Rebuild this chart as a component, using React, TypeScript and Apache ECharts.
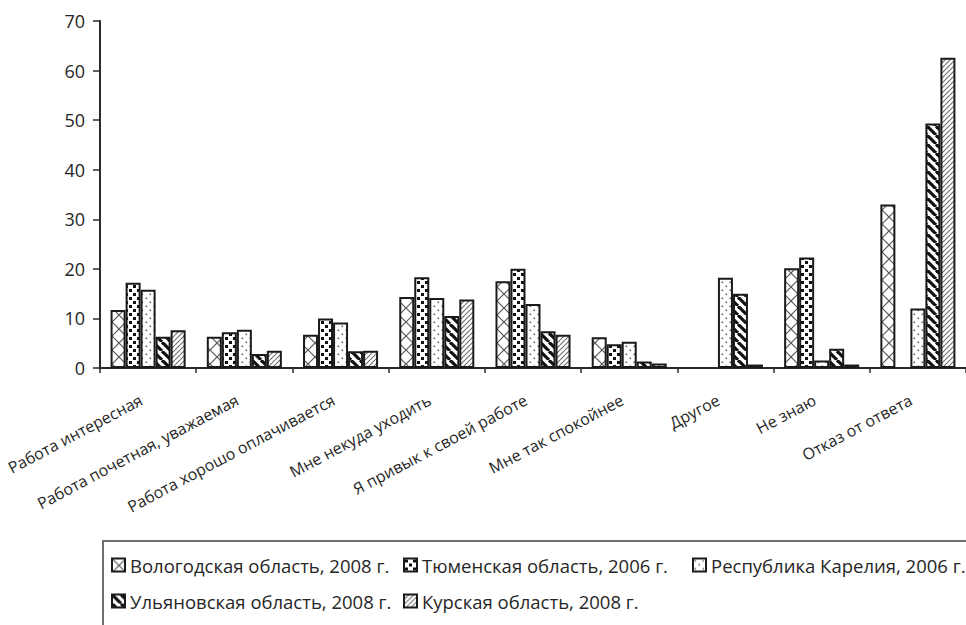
import React, { useEffect, useRef } from 'react';
import * as echarts from 'echarts';

const categories = [
  'Работа интересная',
  'Работа почетная, уважаемая',
  'Работа хорошо оплачивается',
  'Мне некуда уходить',
  'Я привык к своей работе',
  'Мне так спокойнее',
  'Другое',
  'Не знаю',
  'Отказ от ответа',
];

const seriesNames = [
  'Вологодская область, 2008 г.',
  'Тюменская область, 2006 г.',
  'Республика Карелия, 2006 г.',
  'Ульяновская область, 2008 г.',
  'Курская область, 2008 г.',
];

const vologda = [11.7, 6.3, 6.7, 14.3, 17.5, 6.2, null, 20.1, 33.0];
const tyumen = [17.2, 7.2, 10.0, 18.3, 20.0, 4.8, null, 22.3, null];
const karelia = [15.8, 7.7, 9.2, 14.1, 12.9, 5.3, 18.2, 1.5, 12.0];
const ulyanovsk = [6.3, 2.8, 3.4, 10.5, 7.4, 1.3, 15.0, 3.9, 49.3];
const kursk = [7.6, 3.5, 3.5, 13.8, 6.7, 0.9, 0.7, 0.7, 62.6];

const yTicks = { min: 0, max: 70, interval: 10 };

const FONT = 'Open Sans';
const TEXT = '#262626';

function makePattern(size: number, draw: (ctx: CanvasRenderingContext2D, s: number) => void) {
  const c = document.createElement('canvas');
  c.width = size;
  c.height = size;
  const ctx = c.getContext('2d') as CanvasRenderingContext2D;
  ctx.fillStyle = '#ffffff';
  ctx.fillRect(0, 0, size, size);
  draw(ctx, size);
  return { image: c, repeat: 'repeat', imageWidth: size, imageHeight: size } as any;
}

function diag(ctx: CanvasRenderingContext2D, s: number, dir: 'down' | 'up') {
  for (const x0 of [-s, 0, s]) {
    ctx.beginPath();
    if (dir === 'down') {
      ctx.moveTo(x0, 0);
      ctx.lineTo(x0 + s, s);
    } else {
      ctx.moveTo(x0, s);
      ctx.lineTo(x0 + s, 0);
    }
    ctx.stroke();
  }
}

export default function App() {
  const ref = useRef<HTMLDivElement>(null);
  useEffect(() => {
    if (!ref.current) return;
    const chart = echarts.init(ref.current, undefined, { renderer: 'svg' });

    const pCross = makePattern(14, (ctx, s) => {
      ctx.strokeStyle = '#5a5a5a';
      ctx.lineWidth = 1.2;
      diag(ctx, s, 'down');
      diag(ctx, s, 'up');
    });
    const pSquares = makePattern(8, (ctx) => {
      ctx.fillStyle = '#111';
      ctx.fillRect(1, 1, 3, 3);
      ctx.fillRect(5, 5, 3, 3);
    });
    const pDots = makePattern(8, (ctx) => {
      ctx.fillStyle = '#666';
      ctx.fillRect(1.5, 1.5, 1.6, 1.6);
      ctx.fillRect(5.5, 5.5, 1.6, 1.6);
    });
    const pWide = makePattern(9, (ctx, s) => {
      ctx.strokeStyle = '#111';
      ctx.lineWidth = 3.2;
      diag(ctx, s, 'down');
    });
    const pLight = makePattern(5, (ctx, s) => {
      ctx.strokeStyle = '#6a6a6a';
      ctx.lineWidth = 1.1;
      diag(ctx, s, 'up');
    });

    const patterns = [pCross, pSquares, pDots, pWide, pLight];
    const datas = [vologda, tyumen, karelia, ulyanovsk, kursk];

    const legendPos = [
      { left: 111, top: 554 },
      { left: 403, top: 554 },
      { left: 692, top: 554 },
      { left: 111, top: 590 },
      { left: 403, top: 590 },
    ];

    chart.setOption({
      animation: false,
      backgroundColor: '#ffffff',
      textStyle: { fontFamily: FONT, color: TEXT },
      grid: { left: 100, right: 0, top: 21, bottom: 257, containLabel: false },
      xAxis: {
        type: 'category',
        data: categories,
        axisLine: { lineStyle: { color: '#2a2a2a', width: 2 } },
        axisTick: { show: true, length: 5, alignWithLabel: false, lineStyle: { color: '#2a2a2a', width: 1.5 } },
        axisLabel: {
          interval: 0,
          rotate: 28,
          margin: 27,
          padding: [0, 8, 0, 0],
          fontSize: 16,
          fontFamily: FONT,
          color: TEXT,
        },
        splitLine: { show: false },
      },
      yAxis: {
        type: 'value',
        min: yTicks.min,
        max: yTicks.max,
        interval: yTicks.interval,
        axisLine: { show: true, lineStyle: { color: '#2a2a2a', width: 2 } },
        axisTick: { show: true, length: 7, lineStyle: { color: '#2a2a2a', width: 1.5 } },
        axisLabel: { margin: 15, fontSize: 18, fontFamily: FONT, color: TEXT },
        splitLine: { show: false },
      },
      legend: seriesNames.map((name, i) => ({
        show: true,
        data: [name],
        left: legendPos[i].left,
        top: legendPos[i].top,
        padding: 0,
        icon: 'rect',
        itemWidth: 13,
        itemHeight: 13,
        selectedMode: false,
        textStyle: { fontSize: 18.5, fontFamily: FONT, color: TEXT, lineHeight: 22 },
      })),
      graphic: [
        {
          type: 'rect',
          shape: { x: 103, y: 541, width: 900, height: 120 },
          style: { fill: 'none', stroke: '#707070', lineWidth: 2 },
          silent: true,
        },
      ],
      series: seriesNames.map((name, i) => ({
        name,
        type: 'bar',
        data: datas[i].map((v) => (v === null ? '-' : v)),
        barGap: '0%',
        barCategoryGap: '22%',
        itemStyle: {
          color: patterns[i],
          borderColor: '#1a1a1a',
          borderWidth: 2,
        },
      })),
    });

    return () => {
      chart.dispose();
    };
  }, []);

  return (
    <div
      ref={ref}
      style={{ position: 'fixed', left: 0, top: 0, width: 966, height: 625, background: '#fff' }}
    />
  );
}
